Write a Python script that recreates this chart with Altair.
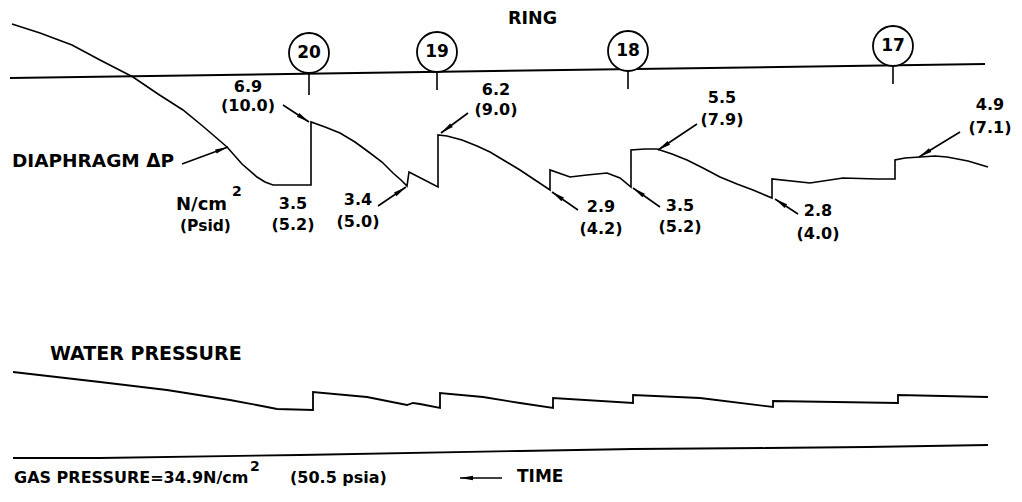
import math
import altair as alt
import pandas as pd

# ---------------- data (time position, trace level) ----------------
# Diaphragm delta-P trace
dp_t = [12, 40, 72, 100, 133, 158, 183, 205, 227, 242, 257, 265, 273, 290, 311,
        311, 325, 340, 355, 370, 382, 393, 401, 407,
        409, 438,
        438, 447, 462, 477, 490, 505, 520, 535, 550,
        550, 570, 587, 607, 620, 631,
        631, 645, 657, 672, 687, 703, 720, 737, 753, 772,
        772, 810, 843, 877, 895,
        895, 905, 920, 935, 947, 968, 988]
dp_v = [24, 33, 45, 60, 77, 94, 110, 128, 147, 164, 177, 182, 185, 185, 185,
        122, 127, 133, 142, 153, 162, 173, 180, 186,
        172, 187,
        135, 136, 140, 146, 152, 161, 170, 180, 190,
        170, 177, 175, 173, 178, 187,
        150, 149, 149, 154, 160, 168, 177, 184, 190, 198,
        179, 183, 178, 179, 179,
        160, 158, 157, 156, 157, 161, 167]

# Water pressure trace
wp_t = [13, 100, 167, 230, 267, 277, 313, 313, 367, 407, 413, 420, 440, 440, 483, 520,
        553, 553, 633, 633, 700, 773, 773, 898, 898, 988]
wp_v = [372, 382, 390, 400, 407, 409, 410, 392, 397, 405, 403, 404, 408, 393, 397, 403,
        408, 398, 403, 395, 398, 407, 401, 403, 395, 397]

# Gas pressure trace
gp_t = [13, 100, 300, 520, 633, 767, 867, 988]
gp_v = [458, 458, 455, 451, 449, 448, 447, 445]

# Ring reference line and ring markers
ring_line_t = [10, 985]
ring_line_v = [78, 64]
ring_names = ["20", "19", "18", "17"]
ring_t = [309, 437, 628, 893]
ring_circle_v = [53, 52, 51, 46]
ring_tick_top = [74, 72, 70, 65]
ring_tick_bot = [95, 90, 89, 84]

# Peak / valley annotations (N/cm2 over psid)
ann_si = ["6.9", "3.5", "3.4", "6.2", "2.9", "3.5", "5.5", "2.8", "4.9"]
ann_psi = ["(10.0)", "(5.2)", "(5.0)", "(9.0)", "(4.2)", "(5.2)", "(7.9)", "(4.0)", "(7.1)"]
ann_t = [248, 293, 358, 496, 601, 680, 722, 818, 990]
ann_v_top = [87, 204, 200, 90, 207, 206, 98, 211, 105]
ann_v_bot = [106, 225, 222, 110, 229, 227, 120, 234, 128]

# Leader arrows: start (label side) -> tip (trace side)
arr_t0 = [283, 378, 468, 578, 660, 697, 798, 960, 182, 502]
arr_v0 = [105, 206, 113, 210, 207, 124, 214, 132, 164, 478]
arr_t1 = [309, 406, 441, 552, 633, 658, 775, 919, 228, 460]
arr_v1 = [122, 187, 133, 192, 188, 150, 199, 157, 147, 478]

# Free text labels
lbl_text = ["RING", "DIAPHRAGM \u0394P", "N/cm", "2", "(Psid)", "WATER PRESSURE",
            "GAS PRESSURE=34.9N/cm", "2", "(50.5 psia)", "TIME"]
lbl_t = [508, 12, 176, 232, 180, 50, 14, 250, 290, 517]
lbl_v = [19, 161, 205, 192, 226, 354, 478, 467, 478, 477]
lbl_size = [17.5, 18.5, 18, 14, 15.5, 19, 16, 14, 16, 17]

# ---------------- chart ----------------
W, H = 1006, 486
xs = alt.Scale(domain=[8, 1014], nice=False, zero=False)
ys = alt.Scale(domain=[8, 494], nice=False, zero=False, reverse=True)
FONT = "DejaVu Sans"


def X(f="t"):
    return alt.X(f"{f}:Q", scale=xs, axis=None)


def Y(f="v"):
    return alt.Y(f"{f}:Q", scale=ys, axis=None)


def trace(t, v, w=1.6):
    df = pd.DataFrame({"t": t, "v": v, "i": list(range(len(t)))})
    return alt.Chart(df).mark_line(color="black", strokeWidth=w).encode(
        x=X(), y=Y(), order=alt.Order("i:Q"))


layers = []
layers.append(trace(ring_line_t, ring_line_v, 2.0))
layers.append(trace(dp_t, dp_v, 1.6))
layers.append(trace(wp_t, wp_v, 1.8))
layers.append(trace(gp_t, gp_v, 1.8))

ticks = pd.DataFrame({"t": ring_t, "v": ring_tick_top, "v2": ring_tick_bot})
layers.append(alt.Chart(ticks).mark_rule(color="black", strokeWidth=1.6).encode(
    x=X(), y=Y(), y2="v2:Q"))

rings = pd.DataFrame({"t": ring_t, "v": ring_circle_v, "name": ring_names})
layers.append(alt.Chart(rings).mark_point(
    shape="circle", size=1600, filled=False, fill="white", fillOpacity=1,
    stroke="black", strokeWidth=1.8, opacity=1).encode(x=X(), y=Y()))
layers.append(alt.Chart(rings).mark_text(
    font=FONT, fontWeight="bold", fontSize=17, align="center", baseline="middle",
    color="black").encode(x=X(), y=Y(), text="name:N"))

ann = pd.DataFrame({"t": ann_t, "top": ann_v_top, "bot": ann_v_bot,
                    "si": ann_si, "psi": ann_psi})
layers.append(alt.Chart(ann).mark_text(
    font=FONT, fontWeight="bold", fontSize=16, align="center", baseline="middle",
    color="black").encode(x=X(), y=Y("top"), text="si:N"))
layers.append(alt.Chart(ann).mark_text(
    font=FONT, fontWeight="bold", fontSize=16, align="center", baseline="middle",
    color="black").encode(x=X(), y=Y("bot"), text="psi:N"))

# arrows
HEAD = 13.0
rows = []
for a0, b0, a1, b1 in zip(arr_t0, arr_v0, arr_t1, arr_v1):
    dx, dy = a1 - a0, b1 - b0
    L = math.hypot(dx, dy)
    ux, uy = dx / L, dy / L
    ang = math.degrees(math.atan2(dx, -dy)) % 360
    rows.append({"t": a0, "v": b0, "t2": a1, "v2": b1,
                 "ht": a1 - ux * HEAD / 2, "hv": b1 - uy * HEAD / 2, "ang": ang})
arr = pd.DataFrame(rows)
layers.append(alt.Chart(arr).mark_rule(color="black", strokeWidth=1.6).encode(
    x=X(), y=Y(), x2="t2:Q", y2="v2:Q"))
layers.append(alt.Chart(arr).mark_point(
    shape="M0,-1L0.34,1L-0.34,1Z", filled=True, color="black", size=HEAD * HEAD,
    opacity=1, strokeWidth=0).encode(
    x=X("ht"), y=Y("hv"), angle=alt.Angle("ang:Q", scale=None)))

lbl = pd.DataFrame({"t": lbl_t, "v": lbl_v, "txt": lbl_text, "fs": lbl_size})
layers.append(alt.Chart(lbl).mark_text(
    font=FONT, fontWeight="bold", align="left", baseline="middle",
    color="black").encode(x=X(), y=Y(), text="txt:N",
                          size=alt.Size("fs:Q", scale=None)))

chart = alt.layer(*layers).properties(
    width=W, height=H, padding=0,
    autosize=alt.AutoSizeParams(type="none"),
    background="white",
).configure_view(stroke=None)

chart.save("out.html", embed_options={"renderer": "svg", "actions": False})
